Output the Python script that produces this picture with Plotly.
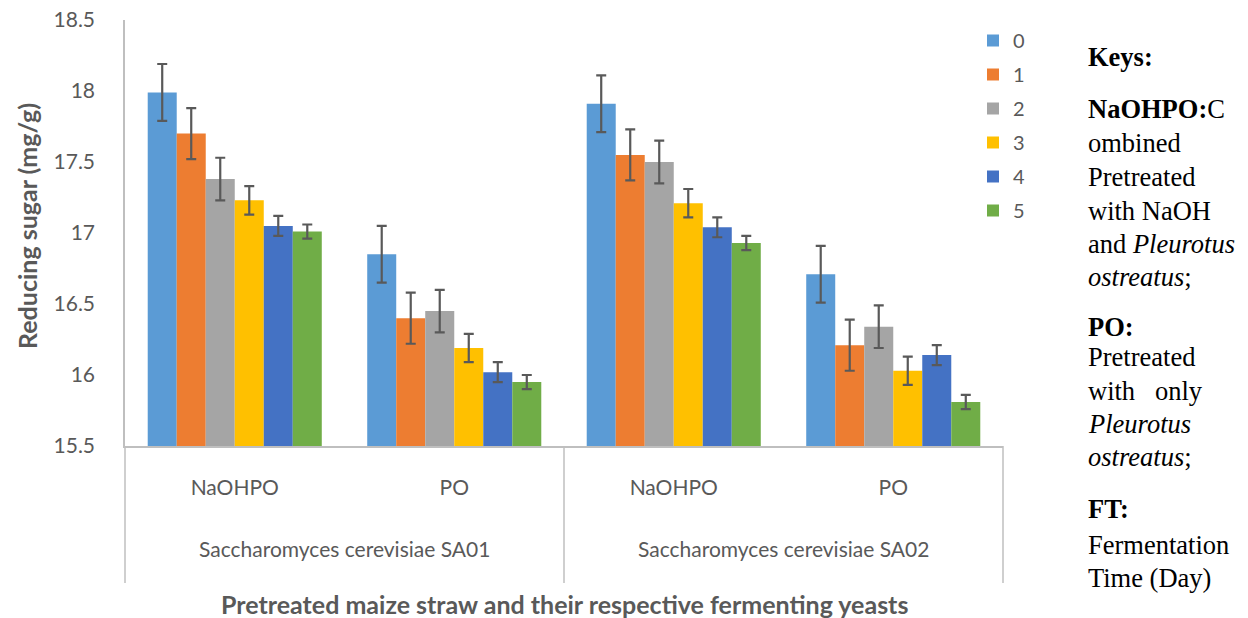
import plotly.graph_objects as go

yeasts = ["Saccharomyces cerevisiae SA01", "Saccharomyces cerevisiae SA02"]
pretreat = ["NaOHPO", "PO", "NaOHPO", "PO"]
categories = ["SA01 NaOHPO", "SA01 PO", "SA02 NaOHPO", "SA02 PO"]
days = ["0", "1", "2", "3", "4", "5"]
values = {
    "0": [17.99, 16.85, 17.91, 16.71],
    "1": [17.70, 16.40, 17.55, 16.21],
    "2": [17.38, 16.45, 17.50, 16.34],
    "3": [17.23, 16.19, 17.21, 16.03],
    "4": [17.05, 16.02, 17.04, 16.14],
    "5": [17.01, 15.95, 16.93, 15.81],
}
errors = {"0": 0.20, "1": 0.18, "2": 0.15, "3": 0.10, "4": 0.07, "5": 0.05}
colors = ["#5B9BD5", "#ED7D31", "#A5A5A5", "#FFC000", "#4472C4", "#70AD47"]
y_ticks = [15.5, 16, 16.5, 17, 17.5, 18, 18.5]

W, H = 1248, 618
ML, MR, MT, MB = 125, 245, 20, 172
PW, PH = W - ML - MR, H - MT - MB

def py(ypix):
    return (H - MB - ypix) / PH

def px(xpix):
    return (xpix - ML) / PW

FONT = "Lato, Open Sans, sans-serif"
GREY = "#595959"
AXC = "#BFBFBF"

fig = go.Figure()
for i, d in enumerate(days):
    fig.add_trace(go.Bar(
        x=categories, y=values[d], name=d, legendgroup=d,
        marker=dict(color=colors[i], line=dict(width=0)),
        error_y=dict(type="constant", value=errors[d], color=GREY,
                     thickness=2.2, width=5),
    ))

fig.update_layout(
    width=W, height=H,
    margin=dict(l=ML, r=MR, t=MT, b=MB, autoexpand=False),
    paper_bgcolor="white", plot_bgcolor="white",
    barmode="group", bargap=0.207, bargroupgap=0,
    showlegend=True,
    legend=dict(x=px(973), y=py(21), xanchor="left", yanchor="top",
                font=dict(family=FONT, size=20, color=GREY),
                tracegroupgap=5, itemwidth=30, bgcolor="rgba(0,0,0,0)"),
    xaxis=dict(
        type="category", categoryorder="array", categoryarray=categories,
        tickvals=categories, ticktext=pretreat,
        showline=True, linecolor=AXC, linewidth=1.5,
        tickfont=dict(family=FONT, size=21, color=GREY), ticks="",
        ticklabelstandoff=22, showgrid=False, automargin=False,
    ),
    yaxis=dict(
        range=[15.5, 18.5], tickvals=y_ticks, ticktext=[f"{v:g}" for v in y_ticks],
        showline=True, linecolor=AXC, linewidth=1.5, showgrid=False,
        zeroline=False, ticks="", tickfont=dict(family=FONT, size=21, color=GREY),
        ticklabelstandoff=24, automargin=False,
    ),
)

# y axis title
fig.add_annotation(text="<b>Reducing sugar (mg/g)</b>", textangle=-90,
                   xref="paper", yref="paper", x=px(27), y=py(226),
                   xanchor="center", yanchor="middle", showarrow=False,
                   font=dict(family=FONT, size=25, color=GREY))

# category dividers below the axis
for xp in [0, 0.5, 1]:
    fig.add_shape(type="line", xref="paper", yref="paper",
                  x0=xp, x1=xp, y0=0, y1=py(583),
                  line=dict(color=AXC, width=1.5))

# yeast labels (second category level)
for j, name in enumerate(yeasts):
    fig.add_annotation(text=name, xref="x", yref="paper",
                       x=2 * j + 0.5, y=py(548), showarrow=False,
                       xanchor="center", yanchor="middle",
                       font=dict(family=FONT, size=21, color=GREY))

# x axis title
fig.add_annotation(text="<b>Pretreated maize straw and their respective fermenting yeasts</b>",
                   xref="paper", yref="paper", x=0.5, y=py(604), showarrow=False,
                   xanchor="center", yanchor="middle",
                   font=dict(family=FONT, size=25, color=GREY))

key_lines = [
    ("<b>Keys:</b>", 57),
    ("<b>NaOHPO:</b>C", 109),
    ("ombined", 143),
    ("Pretreated", 177),
    ("with NaOH", 211),
    ("and <i>Pleurotus</i>", 244),
    ("<i>ostreatus</i>;", 277),
    ("<b>PO:</b>", 327),
    ("Pretreated", 357),
    ("with\u00a0\u00a0\u00a0only", 391),
    ("<i>Pleurotus</i>", 424),
    ("<i>ostreatus</i>;", 457),
    ("<b>FT:</b>", 509),
    ("Fermentation", 545),
    ("Time (Day)", 578),
]
for txt, ypix in key_lines:
    fig.add_annotation(text=txt, xref="paper", yref="paper",
                       x=px(1086), y=py(ypix),
                       xanchor="left", yanchor="middle", showarrow=False,
                       font=dict(family="Liberation Serif, Times New Roman, serif",
                                 size=26.5, color="black"))

fig.write_html("out.html", config={"displayModeBar": False},
               post_script="document.body.style.margin='0';document.body.style.overflow='hidden';")
